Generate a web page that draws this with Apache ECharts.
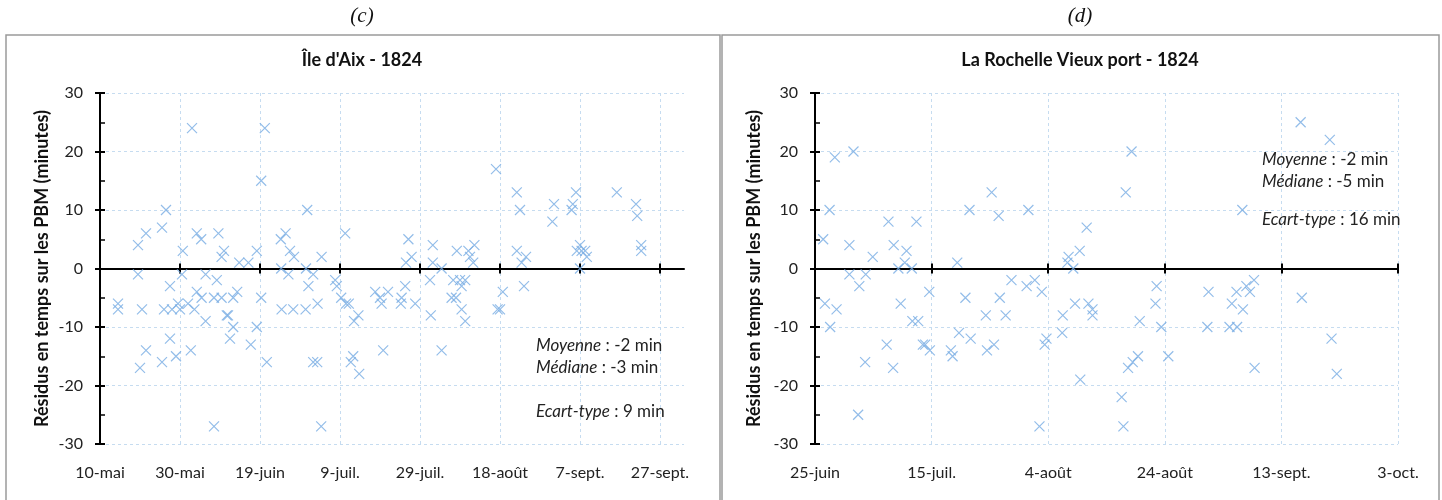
<!DOCTYPE html>
<html><head><meta charset="utf-8">
<script src="https://cdn.jsdelivr.net/npm/echarts@6/dist/echarts.min.js"></script>
<style>html,body{margin:0;padding:0;background:#fff}#c{width:1442px;height:500px}</style>
</head><body><div id="c"></div>
<script>
// ---- Data (x = days since first axis date, y = residual in minutes) ----
const aixTickLabels = ['10-mai','30-mai','19-juin','9-juil.','29-juil.','18-août','7-sept.','27-sept.'];
const aixDays = [4.5,4.5,9.5,9.5,10,10.5,11.5,11.5,15.5,15.5,16,16.5,17.5,17.5,18,19,19.5,20,20.5,20.7,22,22.7,23,23.6,24.2,24.2,25.3,25.4,26.4,26.4,28.5,28.5,29.2,29.6,30.4,30.4,31,31.7,32,32.5,33.3,33.3,34.3,34.8,37.1,37.7,39.2,39.2,40.3,40.3,41.2,41.7,45.2,45.3,45.4,46.4,47.1,47.5,48.3,48.5,51.4,51.5,51.8,52.1,53.3,53.3,54.3,54.4,55.3,55.4,58.8,59.2,60.3,61.3,61.5,62.2,62.7,63.3,63.5,64.6,64.8,68.8,70,70.4,70.8,72,75.2,75.4,76.3,76.5,77.1,77.9,78.8,82.5,82.7,83.2,83.2,85.4,85.4,87.9,88.3,89,89.2,90,90.4,90.4,91.3,91.3,92.1,92.5,93.3,93.6,99,99.4,100,100.7,104.2,104.2,105,105.4,106,106.5,113.1,113.5,117.9,118.2,119,119.2,120,120,120.4,121.3,121.7,129.2,134,134.3,135.3,135.3];
const aixResid = [-6,-7,4,-1,-17,-7,-14,6,-16,7,-7,10,-3,-12,-7,-15,-6,-7,-1,3,-6,-14,24,-7,6,-4,5,-5,-1,-9,-5,-27,-2,6,2,-5,3,-8,-8,-12,-5,-10,-4,1,1,-13,3,-10,15,-5,24,-16,5,0,-7,6,-1,3,-7,2,-7,0,10,-3,-1,-16,-16,-6,-27,2,-2,-3,-5,6,-6,-6,-16,-15,-9,-8,-18,-4,-5,-6,-14,-4,-6,-5,-3,1,5,2,-6,-2,-8,4,1,0,-14,-5,-2,-5,3,-2,-3,-7,-2,-9,3,2,1,4,17,-7,-7,-4,13,3,10,1,-3,2,8,11,10,11,13,3,4,0,3,3,2,13,11,9,4,3];

const rochelleTickLabels = ['25-juin','15-juil.','4-août','24-août','13-sept.','3-oct.'];
const rochelleDays = [1.4,1.7,2.5,2.6,3.4,3.7,5.9,5.9,6.6,7.4,7.6,8.6,8.7,9.9,12.3,12.6,13.4,13.5,14.3,14.7,15.4,15.7,16.6,16.7,17.4,17.7,18.5,18.9,19.6,19.7,23.3,23.6,24.4,24.7,25.8,26.5,26.7,29.3,29.5,30.3,30.7,31.5,31.7,32.7,33.7,36.3,36.6,37.7,38.5,38.9,39.4,39.7,42.4,42.5,43.3,43.5,44.3,44.6,45.4,45.5,46.6,46.9,47.6,47.6,52.6,52.9,53.3,53.7,54.3,54.5,55.4,55.7,58.4,58.6,59.4,60.6,67.3,67.5,71.1,71.5,72.3,72.4,73.3,73.4,74,74.6,75.3,75.4,83.3,83.5,88.3,88.6,89.5];
const rochelleResid = [5,-6,10,-10,19,-7,4,-1,20,-25,-3,-16,-1,2,-13,8,-17,4,0,-6,1,3,0,-9,8,-9,-13,-13,-4,-14,-14,-15,1,-11,-5,10,-12,-8,-14,13,-13,9,-5,-8,-2,-3,10,-2,-27,-4,-13,-12,-11,-8,1,2,0,-6,3,-19,7,-6,-7,-8,-22,-27,13,-17,20,-16,-15,-9,-6,-3,-10,-15,-10,-4,-10,-6,-4,-10,10,-7,-3,-4,-2,-17,25,-5,22,-12,-18];

const yTickValues = [-30,-20,-10,0,10,20,30];
const aixStats = [['Moyenne',' : -2 min'],['Médiane',' : -3 min'],['Ecart-type',' : 9 min']];
const rochelleStats = [['Moyenne',' : -2 min'],['Médiane',' : -5 min'],['Ecart-type',' : 16 min']];

// ---- Chart ----
const FONT = 'Lato, "Open Sans", sans-serif';
const gridColor = '#c6dcf0';
const yName = 'Résidus en temps sur les PBM (minutes)';

function xAxesFor(gi, max, labels) {
  const tickVals = labels.map((_, i) => i * 20);
  const splitColors = tickVals.map(() => gridColor).concat(max % 20 === 0 ? [] : ['rgba(0,0,0,0)']);
  return [
    { type:'value', gridIndex:gi, min:0, max:max, interval:20, position:'bottom',
      axisLine:{show:true, onZero:true, lineStyle:{color:'#000', width:2}},
      axisTick:{show:true, length:5, customValues:tickVals, lineStyle:{color:'#000', width:2}},
      axisLabel:{show:false},
      splitLine:{show:true, lineStyle:{color:splitColors, width:1, type:[3,3]}} },
    { type:'value', gridIndex:gi, min:0, max:max, interval:20, position:'bottom',
      axisLine:{show:true, onZero:true, lineStyle:{color:'rgba(0,0,0,0)', width:0}},
      axisTick:{show:true, inside:true, length:5, customValues:tickVals, lineStyle:{color:'#000', width:2}},
      axisLabel:{show:false}, splitLine:{show:false} },
    { type:'value', gridIndex:gi, min:0, max:max, interval:20, position:'bottom',
      axisLine:{show:false, onZero:false}, axisTick:{show:false}, splitLine:{show:false},
      axisLabel:{show:true, margin:21, color:'#222', fontSize:16, fontFamily:FONT, showMaxLabel: max % 20 === 0,
        formatter:(v)=>{ const i=Math.round(v/20); return (Math.abs(v - i*20) < 1e-6 && labels[i] !== undefined) ? labels[i] : ''; } } }
  ];
}
function yAxesFor(gi, nameGap) {
  return [
    { type:'value', gridIndex:gi, min:-30, max:30, interval:10, position:'left',
      axisLine:{show:true, onZero:false, lineStyle:{color:'#000', width:2}},
      axisTick:{show:true, length:5, lineStyle:{color:'#000', width:2}},
      axisLabel:{show:true, margin:17, color:'#222', fontSize:16, fontFamily:FONT,
        formatter:(v)=> yTickValues.includes(v) ? String(v) : ''},
      splitLine:{show:true, lineStyle:{color:gridColor, width:1, type:[3,3]}},
      name:yName, nameLocation:'middle', nameGap:nameGap, nameRotate:90,
      nameTextStyle:{fontWeight:'bold', fontSize:18, color:'#111', fontFamily:FONT} },
    { type:'value', gridIndex:gi, min:-30, max:30, interval:10, position:'left',
      axisLine:{show:true, onZero:false, lineStyle:{color:'rgba(0,0,0,0)', width:0}},
      axisTick:{show:true, inside:true, length:5, lineStyle:{color:'#000', width:2}},
      minorTick:{show:true, splitNumber:2, length:5, lineStyle:{color:'#000', width:1.5}},
      axisLabel:{show:false}, splitLine:{show:false} }
  ];
}

const crossSymbol = 'path://M0,0L10,10M10,0L0,10';
function scatter(xi, yi, xs, ys) {
  return { type:'scatter', xAxisIndex:xi, yAxisIndex:yi, silent:true,
    symbol:crossSymbol, symbolSize:10,
    itemStyle:{color:'none', borderColor:'#78ade4', borderWidth:1.2},
    data: xs.map((x,i)=>[x, ys[i]]), z:3 };
}

function statTexts(x, ys, stats) {
  return stats.map((s,i)=>({ type:'text', left:x, top:ys[i]-11, z:10,
    style:{ text:'{i|'+s[0]+'}{n|'+s[1]+'}',
      rich:{ i:{fontStyle:'italic', fontSize:17, fontFamily:FONT, fill:'#222'},
             n:{fontSize:17, fontFamily:FONT, fill:'#222'} } } }));
}

const chart = echarts.init(document.getElementById('c'), null, {renderer:'canvas'});
chart.setOption({
  backgroundColor:'#fff',
  animation:false,
  grid:[
    {left:100, right:1442-684, top:93, bottom:56},
    {left:815, right:1442-1398, top:93, bottom:56}
  ],
  xAxis:[...xAxesFor(0,146,aixTickLabels), ...xAxesFor(1,100,rochelleTickLabels)],
  yAxis:[...yAxesFor(0,49), ...yAxesFor(1,52)],
  series:[ scatter(0,0,aixDays,aixResid), scatter(3,2,rochelleDays,rochelleResid) ],
  graphic:[
    {type:'rect', shape:{x:6, y:35, width:714, height:470}, style:{fill:'none', stroke:'#9a9a9a', lineWidth:1.5}, z:0},
    {type:'rect', shape:{x:722, y:35, width:717, height:470}, style:{fill:'none', stroke:'#9a9a9a', lineWidth:1.5}, z:0},
    {type:'text', x:362, y:16, style:{text:'(c)', font:'italic 21px "Liberation Serif", serif', fill:'#111', align:'center', verticalAlign:'middle'}},
    {type:'text', x:1080, y:16, style:{text:'(d)', font:'italic 21px "Liberation Serif", serif', fill:'#111', align:'center', verticalAlign:'middle'}},
    {type:'text', x:362, y:60, style:{text:"Île d'Aix - 1824", font:'bold 18px '+FONT, fill:'#111', align:'center', verticalAlign:'middle'}},
    {type:'text', x:1080, y:60, style:{text:'La Rochelle Vieux port - 1824', font:'bold 18px '+FONT, fill:'#111', align:'center', verticalAlign:'middle'}},
    ...statTexts(536, [348,370,414], aixStats),
    ...statTexts(1262, [162,184,222], rochelleStats)
  ]
});
</script></body></html>
